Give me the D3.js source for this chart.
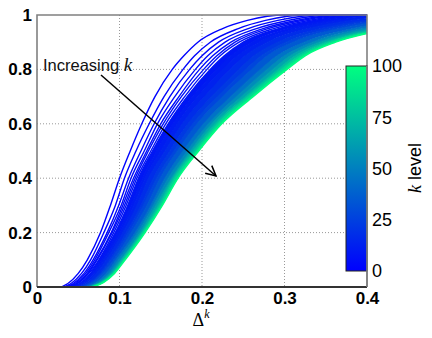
<!DOCTYPE html>
<html>
<head>
<meta charset="utf-8">
<script src="https://cdn.jsdelivr.net/npm/d3@7"></script>
<style>
  body { margin: 0; background: #fff; }
  text { font-family: "Liberation Sans", Arial, Helvetica, sans-serif; }
</style>
</head>
<body>
<div id="chart"></div>
<script>
const kLevels = [1, 2, 3, 4, 5, 6, 7, 8, 10, 12, 15, 20, 25, 30, 40, 50, 60, 70, 80, 90, 100];
// cumulative levels at which each curve's Delta^k position was read
const yLevels = [0, 0.05, 0.1, 0.2, 0.3, 0.4, 0.5, 0.6, 0.7, 0.8, 0.85, 0.9, 0.95, 0.98, 1];
// Delta^k where each curve reaches the levels above (one row per k)
const crossings = [
  [0.026, 0.050, 0.061, 0.077, 0.089, 0.100, 0.113, 0.127, 0.143, 0.164, 0.178, 0.195, 0.225, 0.255, 0.300],
  [0.029, 0.054, 0.065, 0.081, 0.095, 0.106, 0.120, 0.136, 0.154, 0.177, 0.191, 0.210, 0.244, 0.277, 0.327],
  [0.031, 0.057, 0.068, 0.085, 0.099, 0.111, 0.126, 0.142, 0.161, 0.185, 0.200, 0.220, 0.256, 0.292, 0.345],
  [0.033, 0.059, 0.070, 0.087, 0.102, 0.114, 0.130, 0.146, 0.167, 0.192, 0.207, 0.228, 0.266, 0.304, 0.360],
  [0.035, 0.061, 0.072, 0.090, 0.104, 0.117, 0.133, 0.150, 0.172, 0.197, 0.213, 0.235, 0.274, 0.314, 0.372],
  [0.036, 0.062, 0.073, 0.091, 0.106, 0.119, 0.135, 0.153, 0.175, 0.202, 0.218, 0.240, 0.280, 0.321, 0.381],
  [0.037, 0.063, 0.075, 0.093, 0.108, 0.121, 0.138, 0.156, 0.179, 0.206, 0.222, 0.245, 0.287, 0.329, 0.390],
  [0.038, 0.065, 0.076, 0.095, 0.110, 0.123, 0.140, 0.159, 0.182, 0.210, 0.227, 0.250, 0.293, 0.336, 0.399],
  [0.040, 0.067, 0.079, 0.098, 0.114, 0.128, 0.145, 0.165, 0.189, 0.218, 0.235, 0.260, 0.305, 0.351, 0.417],
  [0.042, 0.069, 0.081, 0.101, 0.117, 0.131, 0.150, 0.170, 0.195, 0.225, 0.243, 0.269, 0.315, 0.363, 0.432],
  [0.044, 0.072, 0.084, 0.104, 0.121, 0.135, 0.155, 0.176, 0.203, 0.234, 0.252, 0.279, 0.328, 0.378, 0.450],
  [0.047, 0.076, 0.088, 0.108, 0.126, 0.141, 0.161, 0.183, 0.212, 0.245, 0.263, 0.292, 0.344, 0.397, 0.474],
  [0.049, 0.078, 0.090, 0.111, 0.129, 0.145, 0.166, 0.189, 0.219, 0.253, 0.272, 0.302, 0.356, 0.412, 0.492],
  [0.051, 0.080, 0.093, 0.114, 0.133, 0.149, 0.170, 0.194, 0.225, 0.260, 0.279, 0.310, 0.366, 0.424, 0.507],
  [0.054, 0.084, 0.096, 0.119, 0.138, 0.155, 0.177, 0.202, 0.235, 0.271, 0.291, 0.324, 0.383, 0.444, 0.531],
  [0.056, 0.087, 0.099, 0.122, 0.141, 0.159, 0.182, 0.208, 0.242, 0.279, 0.300, 0.334, 0.395, 0.458, 0.549],
  [0.058, 0.089, 0.102, 0.125, 0.144, 0.163, 0.186, 0.212, 0.248, 0.286, 0.307, 0.342, 0.405, 0.471, 0.564],
  [0.059, 0.091, 0.103, 0.127, 0.147, 0.165, 0.189, 0.216, 0.253, 0.292, 0.313, 0.349, 0.414, 0.480, 0.576],
  [0.060, 0.092, 0.105, 0.128, 0.149, 0.167, 0.192, 0.219, 0.256, 0.296, 0.318, 0.354, 0.420, 0.488, 0.585],
  [0.061, 0.093, 0.106, 0.130, 0.151, 0.170, 0.194, 0.222, 0.260, 0.300, 0.322, 0.359, 0.426, 0.495, 0.594],
  [0.062, 0.094, 0.107, 0.131, 0.152, 0.171, 0.196, 0.224, 0.262, 0.303, 0.325, 0.362, 0.430, 0.500, 0.600]
];
const xTicks = [0, 0.1, 0.2, 0.3, 0.4];
const yTicks = [0, 0.2, 0.4, 0.6, 0.8, 1];
const cbTicks = [0, 25, 50, 75, 100];

const width = 432, height = 338;
const plotLeft = 37, plotRight = 367, plotTop = 15, plotBottom = 287;

const svg = d3.select('#chart').append('svg')
    .attr('width', width).attr('height', height);

const x = d3.scaleLinear().domain([0, 0.4]).range([plotLeft, plotRight]);
const y = d3.scaleLinear().domain([0, 1]).range([plotBottom, plotTop]);

// MATLAB "winter": blue -> spring green
const winter = k => { const t = k / 100; return d3.rgb(0, 255 * t, 255 * (1 - t / 2)).toString(); };

// grid
svg.append('g').selectAll('line').data(xTicks.slice(1, -1)).enter().append('line')
    .attr('x1', d => x(d)).attr('x2', d => x(d)).attr('y1', plotTop).attr('y2', plotBottom)
    .attr('stroke', '#999').attr('stroke-dasharray', '1,2');
svg.append('g').selectAll('line').data(yTicks.slice(1, -1)).enter().append('line')
    .attr('y1', d => y(d)).attr('y2', d => y(d)).attr('x1', plotLeft).attr('x2', plotRight)
    .attr('stroke', '#999').attr('stroke-dasharray', '1,2');

svg.append('clipPath').attr('id', 'plotclip').append('rect')
    .attr('x', plotLeft).attr('y', plotTop - 1).attr('width', plotRight - plotLeft).attr('height', plotBottom - plotTop + 1);

// points of one curve: flat at 0, the read crossings, then flat at 1
function curvePoints(row) {
    const pts = [[0, 0]];
    row.forEach((dx, i) => pts.push([dx, yLevels[i]]));
    pts.push([row[row.length - 1] + 0.1, 1]);
    return pts;
}

const line = d3.line().x(d => x(d[0])).y(d => y(d[1])).curve(d3.curveMonotoneX);

const curves = svg.append('g').attr('clip-path', 'url(#plotclip)');
const firstFilled = kLevels.indexOf(10);

kLevels.forEach((k, i) => {
    const pts = curvePoints(crossings[i]);
    if (i >= firstFilled) {
        const prev = curvePoints(crossings[i - 1]);
        const path = line(prev) + 'L' + line(pts.slice().reverse()).slice(1) + 'Z';
        curves.append('path').attr('d', path)
            .attr('fill', winter((k + kLevels[i - 1]) / 2)).attr('stroke', 'none');
    }
    curves.append('path').datum(pts).attr('d', line)
        .attr('fill', 'none').attr('stroke', winter(k)).attr('stroke-width', 1.4);
});

// frame
svg.append('path').attr('d', `M${plotLeft},${plotBottom}V${plotTop}H${plotRight}V${plotBottom}`)
    .attr('fill', 'none').attr('stroke', '#808080').attr('stroke-width', 1.6);
svg.append('line').attr('x1', plotLeft).attr('x2', plotRight).attr('y1', plotBottom).attr('y2', plotBottom)
    .attr('stroke', '#333').attr('stroke-width', 1.8);

// axes
const xAxis = svg.append('g').attr('transform', `translate(0,${plotBottom})`)
    .call(d3.axisBottom(x).tickValues(xTicks).tickSize(0).tickPadding(5).tickFormat(d3.format('~g')));
const yAxis = svg.append('g').attr('transform', `translate(${plotLeft},0)`)
    .call(d3.axisLeft(y).tickValues(yTicks).tickSize(0).tickPadding(5).tickFormat(d3.format('~g')));
[xAxis, yAxis].forEach(a => {
    a.select('.domain').remove();
    a.selectAll('text').attr('font-size', 17).attr('font-weight', 'bold').attr('fill', '#000')
        .attr('font-family', '"Liberation Sans", Arial, sans-serif');
});

// x label
const xl = svg.append('text').attr('x', 201).attr('y', 326).attr('text-anchor', 'middle');
xl.append('tspan').text('Δ').attr('font-family', '"Liberation Serif", serif').attr('font-size', 18);
xl.append('tspan').text('k').attr('font-family', '"Liberation Serif", serif').attr('font-style', 'italic')
    .attr('font-size', 12).attr('dy', -8);

// annotation
const ann = svg.append('text').attr('x', 43).attr('y', 71).attr('font-size', 16.5).attr('fill', '#111');
ann.append('tspan').text('Increasing ');
ann.append('tspan').text('k').attr('font-family', '"Liberation Serif", serif').attr('font-style', 'italic').attr('font-size', 19);

const defs = svg.append('defs');
defs.append('marker').attr('id', 'arr')
    .attr('viewBox', '0 0 12 12').attr('refX', 11).attr('refY', 6)
    .attr('markerWidth', 12).attr('markerHeight', 12).attr('markerUnits', 'userSpaceOnUse')
    .attr('orient', 'auto')
  .append('path').attr('d', 'M1,1L11,6L1,11').attr('fill', 'none').attr('stroke', '#000').attr('stroke-width', 1.5);
svg.append('line').attr('x1', 101).attr('y1', 75).attr('x2', 216).attr('y2', 176)
    .attr('stroke', '#000').attr('stroke-width', 1.5).attr('marker-end', 'url(#arr)');

// colorbar
const cb = d3.scaleLinear().domain([0, 100]).range([271, 66]);
const grad = defs.append('linearGradient').attr('id', 'cbgrad')
    .attr('x1', 0).attr('x2', 0).attr('y1', 1).attr('y2', 0);
grad.append('stop').attr('offset', 0).attr('stop-color', winter(0));
grad.append('stop').attr('offset', 1).attr('stop-color', winter(100));
svg.append('rect').attr('x', 346).attr('y', cb(100)).attr('width', plotRight - 346).attr('height', cb(0) - cb(100))
    .attr('fill', 'url(#cbgrad)').attr('stroke', '#222').attr('stroke-width', 1);
svg.append('line').attr('x1', plotRight).attr('x2', plotRight).attr('y1', cb(100)).attr('y2', plotBottom)
    .attr('stroke', '#808080').attr('stroke-width', 1.6);
const cbAxis = svg.append('g').attr('transform', `translate(${plotRight},0)`)
    .call(d3.axisRight(cb).tickValues(cbTicks).tickSize(0).tickPadding(5));
cbAxis.select('.domain').remove();
cbAxis.selectAll('text').attr('font-size', 18).attr('fill', '#000')
    .attr('font-family', '"Liberation Sans", Arial, sans-serif');

const cl = svg.append('text').attr('transform', 'translate(421,168) rotate(-90)')
    .attr('text-anchor', 'middle').attr('font-size', 18);
cl.append('tspan').text('k').attr('font-family', '"Liberation Serif", serif').attr('font-style', 'italic');
cl.append('tspan').text(' level');
</script>
</body>
</html>
